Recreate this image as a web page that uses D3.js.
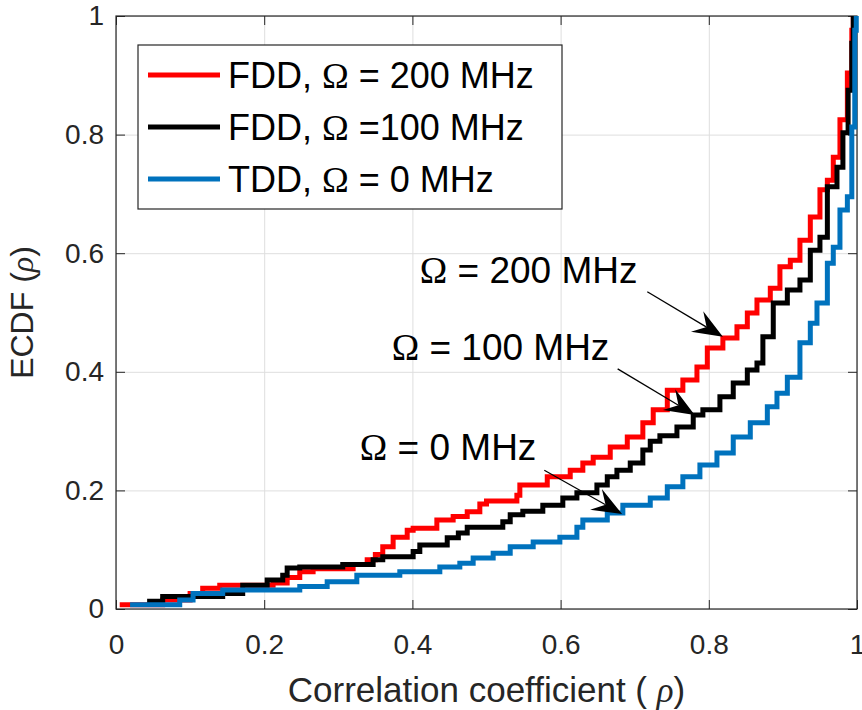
<!DOCTYPE html>
<html>
<head>
<meta charset="utf-8">
<script src="https://cdn.jsdelivr.net/npm/d3@7"></script>
<style>
  body { margin: 0; background: #fff; }
  text { font-family: "Liberation Sans", Arial, sans-serif; }
</style>
</head>
<body>
<div id="chart"></div>
<script>
// tick values on both axes
var tickValues = [0, 0.2, 0.4, 0.6, 0.8, 1];

// legend entries, in draw order
var seriesLabels = [
  ["FDD, ", "Ω", " = 200 MHz"],
  ["FDD, ", "Ω", " =100 MHz"],
  ["TDD, ", "Ω", " = 0 MHz"]
];
var seriesColors = ["#ff0000", "#000000", "#0072bd"];

// ECDF stair vertices [rho, F(rho)]
var fdd200 = [
  [0.005, 0.007], [0.063, 0.015], [0.100, 0.026], [0.117, 0.035], [0.140, 0.040],
  [0.212, 0.044], [0.231, 0.053], [0.248, 0.063], [0.266, 0.068], [0.320, 0.075],
  [0.339, 0.083], [0.350, 0.092], [0.360, 0.105], [0.374, 0.121], [0.393, 0.133],
  [0.401, 0.136], [0.433, 0.150], [0.455, 0.156], [0.474, 0.164], [0.491, 0.177],
  [0.500, 0.182], [0.541, 0.192], [0.545, 0.209], [0.582, 0.223], [0.613, 0.234],
  [0.630, 0.246], [0.644, 0.256], [0.667, 0.273], [0.690, 0.290], [0.711, 0.314],
  [0.725, 0.336], [0.744, 0.369], [0.765, 0.386], [0.784, 0.408], [0.798, 0.440],
  [0.819, 0.457], [0.838, 0.476], [0.852, 0.499], [0.865, 0.521], [0.883, 0.541],
  [0.896, 0.577], [0.910, 0.588], [0.923, 0.622], [0.937, 0.661], [0.950, 0.707],
  [0.960, 0.723], [0.968, 0.762], [0.977, 0.825], [0.987, 0.904], [0.993, 0.976],
  [0.995, 1.000]
];
var fdd100 = [
  [0.042, 0.013], [0.063, 0.021], [0.144, 0.026], [0.171, 0.040], [0.204, 0.049],
  [0.225, 0.057], [0.231, 0.069], [0.248, 0.071], [0.306, 0.075], [0.347, 0.083],
  [0.360, 0.088], [0.401, 0.097], [0.410, 0.108], [0.447, 0.120], [0.462, 0.128],
  [0.474, 0.138], [0.522, 0.147], [0.532, 0.159], [0.549, 0.165], [0.576, 0.175],
  [0.603, 0.187], [0.622, 0.196], [0.649, 0.209], [0.663, 0.223], [0.676, 0.234],
  [0.694, 0.246], [0.711, 0.268], [0.721, 0.283], [0.734, 0.292], [0.757, 0.307],
  [0.779, 0.327], [0.792, 0.336], [0.815, 0.358], [0.833, 0.381], [0.852, 0.403],
  [0.865, 0.415], [0.873, 0.459], [0.887, 0.516], [0.906, 0.538], [0.923, 0.555],
  [0.937, 0.605], [0.950, 0.627], [0.960, 0.712], [0.973, 0.745], [0.981, 0.803],
  [0.988, 0.875], [0.993, 0.954], [0.995, 1.000]
];
var tdd0 = [
  [0.019, 0.007], [0.086, 0.015], [0.104, 0.026], [0.144, 0.032], [0.248, 0.038],
  [0.285, 0.046], [0.325, 0.057], [0.383, 0.063], [0.437, 0.071], [0.464, 0.077],
  [0.482, 0.086], [0.509, 0.094], [0.532, 0.105], [0.563, 0.113], [0.599, 0.121],
  [0.622, 0.138], [0.630, 0.150], [0.663, 0.162], [0.684, 0.175], [0.721, 0.187],
  [0.744, 0.206], [0.765, 0.223], [0.788, 0.243], [0.811, 0.263], [0.833, 0.290],
  [0.856, 0.314], [0.879, 0.341], [0.892, 0.364], [0.906, 0.391], [0.923, 0.449],
  [0.937, 0.482], [0.946, 0.516], [0.960, 0.583], [0.968, 0.610], [0.977, 0.673],
  [0.987, 0.695], [0.993, 0.813], [0.997, 0.976], [0.999, 1.000]
];
var allSeries = [fdd200, fdd100, tdd0];

// text annotations with arrows (data units)
var noteTexts = ["200 MHz", "100 MHz", "0 MHz"];
var noteAnchor = [[0.410, 0.550], [0.372, 0.420], [0.329, 0.251]];
var noteFrom = [[0.717, 0.535], [0.677, 0.405], [0.578, 0.234]];
var noteTo = [[0.819, 0.459], [0.781, 0.327], [0.683, 0.160]];

window.onload = () => {
  var margin = {top: 16, right: 5, bottom: 101, left: 116},
    width = 862 - margin.left - margin.right,
    height = 710 - margin.top - margin.bottom;

  var axisColor = "#262626";

  var x = d3.scaleLinear().domain([0, 1]).range([0, width]);
  var y = d3.scaleLinear().domain([0, 1]).range([height, 0]);

  var svg = d3.select("#chart").append("svg")
    .attr("width", 862)
    .attr("height", 710)
    .append("g")
    .attr("transform", "translate(" + margin.left + "," + margin.top + ")");

  // grid
  svg.append("g")
    .attr("transform", "translate(0," + height + ")")
    .call(d3.axisBottom(x).tickValues(tickValues).tickSize(-height).tickFormat(""))
    .call(g => g.select(".domain").remove())
    .selectAll("line").attr("stroke", "#dedede").attr("stroke-width", 1);
  svg.append("g")
    .call(d3.axisLeft(y).tickValues(tickValues).tickSize(-width).tickFormat(""))
    .call(g => g.select(".domain").remove())
    .selectAll("line").attr("stroke", "#dedede").attr("stroke-width", 1);

  // axes, ticks pointing inward on all four sides
  function styleAxis(g, fontSize) {
    g.select(".domain").remove();
    g.selectAll("line").attr("stroke", axisColor);
    g.selectAll("text")
      .attr("fill", axisColor)
      .style("font-family", '"Liberation Sans", Arial, sans-serif')
      .style("font-size", fontSize + "px");
  }
  svg.append("g")
    .attr("transform", "translate(0," + height + ")")
    .call(d3.axisBottom(x).tickValues(tickValues).tickSizeInner(-9).tickSizeOuter(0)
      .tickPadding(25).tickFormat(d3.format("~g")))
    .call(g => styleAxis(g, 28));
  svg.append("g")
    .call(d3.axisLeft(y).tickValues(tickValues).tickSizeInner(-9).tickSizeOuter(0)
      .tickPadding(12).tickFormat(d3.format("~g")))
    .call(g => styleAxis(g, 28));
  svg.append("g")
    .call(d3.axisTop(x).tickValues(tickValues).tickSizeInner(-9).tickSizeOuter(0).tickFormat(""))
    .call(g => styleAxis(g, 28));
  svg.append("g")
    .attr("transform", "translate(" + width + ",0)")
    .call(d3.axisRight(y).tickValues(tickValues).tickSizeInner(-9).tickSizeOuter(0).tickFormat(""))
    .call(g => styleAxis(g, 28));

  svg.append("rect")
    .attr("width", width)
    .attr("height", height)
    .attr("fill", "none")
    .attr("stroke", axisColor)
    .attr("stroke-width", 1.2);

  // stairs
  var line = d3.line()
    .x(d => x(d[0]))
    .y(d => y(d[1]))
    .curve(d3.curveStepAfter);

  allSeries.forEach((s, i) => {
    svg.append("path")
      .datum(s)
      .attr("fill", "none")
      .attr("stroke", seriesColors[i])
      .attr("stroke-width", 5)
      .attr("stroke-linejoin", "miter")
      .attr("d", line);
  });

  // annotations
  function addOmegaText(sel, prefix, rest) {
    if (prefix) sel.append("tspan").text(prefix);
    sel.append("tspan").style("font-family", '"Liberation Serif", "Times New Roman", serif').text("Ω");
    sel.append("tspan").text(rest);
  }

  noteTexts.forEach((t, i) => {
    var tx = svg.append("text")
      .attr("x", x(noteAnchor[i][0]))
      .attr("y", y(noteAnchor[i][1]))
      .attr("fill", "#000")
      .style("font-size", "37px");
    addOmegaText(tx, "", " = " + t);

    var x0 = x(noteFrom[i][0]), y0 = y(noteFrom[i][1]);
    var x1 = x(noteTo[i][0]), y1 = y(noteTo[i][1]);
    var dx = x1 - x0, dy = y1 - y0, L = Math.hypot(dx, dy);
    var ux = dx / L, uy = dy / L, px = -uy, py = ux;
    var headLen = 30, halfW = 12, notch = 19;
    var bx = x1 - ux * headLen, by = y1 - uy * headLen;
    var nx = x1 - ux * notch, ny = y1 - uy * notch;

    svg.append("line")
      .attr("x1", x0).attr("y1", y0)
      .attr("x2", nx).attr("y2", ny)
      .attr("stroke", "#000")
      .attr("stroke-width", 1.3);
    svg.append("path")
      .attr("d", "M" + x1 + "," + y1 +
        "L" + (bx + px * halfW) + "," + (by + py * halfW) +
        "L" + nx + "," + ny +
        "L" + (bx - px * halfW) + "," + (by - py * halfW) + "Z")
      .attr("fill", "#000");
  });

  // legend
  var legend = svg.append("g")
    .attr("transform", "translate(" + (138 - margin.left) + "," + (45 - margin.top) + ")");
  legend.append("rect")
    .attr("width", 424)
    .attr("height", 164)
    .attr("fill", "#fff")
    .attr("stroke", axisColor)
    .attr("stroke-width", 1.2);

  seriesLabels.forEach((lab, i) => {
    var cy = 30 + i * 52;
    legend.append("line")
      .attr("x1", 10).attr("x2", 82)
      .attr("y1", cy).attr("y2", cy)
      .attr("stroke", seriesColors[i])
      .attr("stroke-width", 5);
    var tx = legend.append("text")
      .attr("x", 90)
      .attr("y", cy)
      .attr("dy", "0.36em")
      .attr("fill", "#000")
      .style("font-size", "36px");
    addOmegaText(tx, lab[0], lab[2]);
  });

  // axis labels
  var xl = svg.append("text")
    .attr("x", width / 2)
    .attr("y", height + 93)
    .attr("text-anchor", "middle")
    .attr("fill", axisColor)
    .style("font-size", "35px");
  xl.append("tspan").text("Correlation coefficient ( ");
  xl.append("tspan").style("font-family", '"Liberation Serif", serif').style("font-style", "italic").text("ρ");
  xl.append("tspan").text(")");

  var yl = svg.append("text")
    .attr("transform", "translate(" + (-83) + "," + (height / 2) + ") rotate(-90)")
    .attr("text-anchor", "middle")
    .attr("fill", axisColor)
    .style("font-size", "32px");
  yl.append("tspan").text("ECDF (");
  yl.append("tspan").style("font-family", '"Liberation Serif", serif').style("font-style", "italic").text("ρ");
  yl.append("tspan").text(")");
};
</script>
</body>
</html>
